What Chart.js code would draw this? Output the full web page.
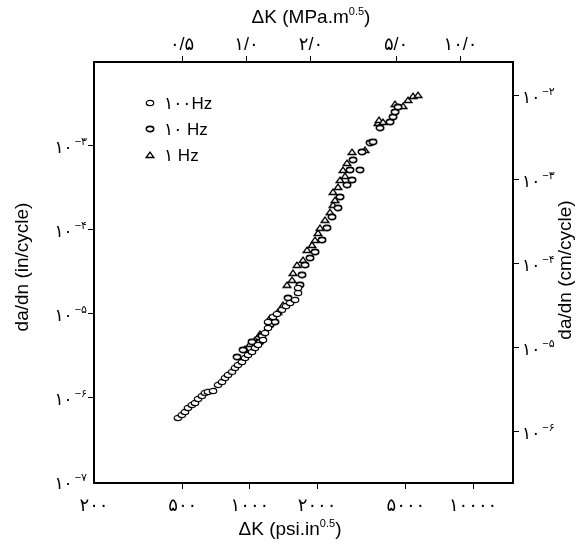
<!DOCTYPE html>
<html>
<head>
<meta charset="utf-8">
<script src="https://cdn.jsdelivr.net/npm/chart.js@4/dist/chart.umd.min.js"></script>
<style>
  html, body { margin: 0; padding: 0; background: #fff; }
  #wrap { width: 585px; height: 545px; }
</style>
</head>
<body>
<div id="wrap"><canvas id="chart" width="585" height="545"></canvas></div>
<script>
// ΔK (psi.in^0.5) and da/dn (in/cycle)
const dk100 = [475, 495, 511, 527, 549, 567, 585, 609, 628, 648, 683, 719, 749, 773, 797, 831, 857, 883,
  921, 950, 980, 1021, 1053, 1086, 1144, 1168, 1204, 1204, 1267, 1321, 1391, 1450, 1512, 1592, 1642, 1642];
const rate100 = [5.78e-7, 6.27e-7, 6.80e-7, 7.60e-7, 8.25e-7, 8.71e-7, 9.73e-7, 1.056e-6, 1.15e-6, 1.18e-6,
  1.21e-6, 1.43e-6, 1.55e-6, 1.73e-6, 1.88e-6, 2.05e-6, 2.28e-6, 2.47e-6, 2.68e-6, 2.99e-6, 3.25e-6, 3.53e-6,
  3.94e-6, 4.28e-6, 4.90e-6, 5.94e-6, 6.81e-6, 8.03e-6, 9.21e-6, 1.00e-5, 1.12e-5, 1.24e-5, 1.35e-5, 1.47e-5,
  1.78e-5, 2.04e-5];

const dk10 = [875, 931, 1021, 1109, 1132, 1229, 1294, 1481, 1676, 1711, 1765, 1858, 1957, 2103, 2214, 2332,
  2481, 2533, 2723, 2867, 2808, 3113, 2896, 3178, 3452, 3560, 3828, 4244, 4377, 4469, 4610];
const rate10 = [3.07e-6, 3.73e-6, 4.65e-6, 4.65e-6, 5.47e-6, 7.39e-6, 8.03e-6, 1.55e-5, 2.22e-5, 2.92e-5,
  3.83e-5, 4.64e-5, 5.47e-5, 7.60e-5, 1.06e-4, 1.43e-4, 1.83e-4, 2.47e-4, 3.44e-4, 3.94e-4, 5.18e-4, 5.18e-4,
  6.82e-4, 8.49e-4, 1.09e-3, 1.12e-3, 1.64e-3, 1.93e-3, 2.22e-3, 2.54e-3, 2.91e-3];

const dk1 = [950, 1000, 1053, 1109, 1229, 1335, 1406, 1465, 1544, 1559, 1625, 1729, 1802, 1897, 1957, 2018,
  2060, 2169, 2284, 2357, 2406, 2357, 2481, 2533, 2667, 2612, 2723, 2867, 3279, 3750, 3789, 3948, 4469,
  4854, 5111, 5382, 5667];
const rate1 = [3.83e-6, 4.40e-6, 4.90e-6, 5.78e-6, 8.96e-6, 1.06e-5, 1.28e-5, 2.22e-5, 2.54e-5, 3.08e-5,
  3.83e-5, 4.39e-5, 5.78e-5, 6.63e-5, 7.60e-5, 9.21e-5, 1.06e-4, 1.32e-4, 1.63e-4, 1.99e-4, 2.27e-4, 2.84e-4,
  3.25e-4, 3.94e-4, 4.39e-4, 5.18e-4, 6.28e-4, 8.49e-4, 8.97e-4, 1.88e-3, 2.04e-3, 1.93e-3, 3.16e-3,
  2.99e-3, 3.53e-3, 3.93e-3, 4.04e-3];

const seriesLabels = ['۱۰۰Hz', '۱۰ Hz', '۱ Hz'];

// axis ticks
const psiTicks = [200, 500, 1000, 2000, 5000, 10000];
const psiTickLabels = ['۲۰۰', '۵۰۰', '۱۰۰۰', '۲۰۰۰', '۵۰۰۰', '۱۰۰۰۰'];
const mpaTicks = [0.5, 1, 2, 5, 10];
const mpaTickLabels = ['۰/۵', '۱/۰', '۲/۰', '۵/۰', '۱۰/۰'];
const inTicks = [1e-3, 1e-4, 1e-5, 1e-6, 1e-7];
const inTickExps = ['۳', '۴', '۵', '۶', '۷'];
const cmTicks = [1e-2, 1e-3, 1e-4, 1e-5, 1e-6];
const cmTickExps = ['۲', '۳', '۴', '۵', '۶'];

const FONT = '"Liberation Sans", "DejaVu Sans", Arial, sans-serif';

function toPoints(xs, ys) {
  return xs.map((x, i) => ({ x, y: ys[i] }));
}

// small marker images
function makeMarker(kind) {
  const c = document.createElement('canvas');
  c.width = 10;
  c.height = 8;
  const g = c.getContext('2d');
  g.fillStyle = '#fff';
  g.strokeStyle = '#000';
  g.beginPath();
  if (kind === 'tri') {
    g.lineWidth = 1.3;
    g.moveTo(5, 1.2);
    g.lineTo(8.8, 6.5);
    g.lineTo(1.2, 6.5);
    g.closePath();
  } else {
    g.lineWidth = kind === 'bold' ? 1.6 : 1.2;
    g.ellipse(5, 4, 3.7, 2.6, 0, 0, Math.PI * 2);
  }
  g.fill();
  g.stroke();
  return c;
}
const markers = [makeMarker('thin'), makeMarker('bold'), makeMarker('tri')];

function hideAt(v) {
  return ctx => (ctx.tick && ctx.tick.value === v ? 'rgba(0,0,0,0)' : '#000');
}

// text with a superscript part, centred on cx
function supText(ctx, parts, cx, cy, size) {
  const supSize = Math.round(size * 0.6);
  const widths = parts.map(p => {
    ctx.font = (p.sup ? supSize : size) + 'px ' + FONT;
    return ctx.measureText(p.t).width;
  });
  let x = cx - widths.reduce((a, b) => a + b, 0) / 2;
  parts.forEach((p, i) => {
    ctx.font = (p.sup ? supSize : size) + 'px ' + FONT;
    ctx.fillText(p.t, x, p.sup ? cy - size * 0.32 : cy);
    x += widths[i];
  });
}

function powerLabel(ctx, exp, x, y, alignRight) {
  ctx.font = '17px ' + FONT;
  const base = '۱۰';
  const wb = ctx.measureText(base).width;
  ctx.font = '11px ' + FONT;
  const sup = '−' + exp;
  const ws = ctx.measureText(sup).width;
  const left = alignRight ? x - wb - ws - 2 : x;
  ctx.font = '17px ' + FONT;
  ctx.fillText(base, left, y + 2);
  ctx.font = '11px ' + FONT;
  ctx.fillText(sup, left + wb + 2, y - 4);
}

const textPlugin = {
  id: 'textPlugin',
  afterDraw(chart) {
    const ctx = chart.ctx;
    const area = chart.chartArea;
    const sy = chart.scales.y;
    const sy2 = chart.scales.y2;
    ctx.save();
    ctx.fillStyle = '#000';
    ctx.textBaseline = 'middle';
    ctx.textAlign = 'left';

    inTicks.forEach((v, i) => powerLabel(ctx, inTickExps[i], area.left - 7, sy.getPixelForValue(v), true));
    cmTicks.forEach((v, i) => powerLabel(ctx, cmTickExps[i], area.right + 9, sy2.getPixelForValue(v), false));

    // axis titles
    supText(ctx, [{ t: 'ΔK (MPa.m' }, { t: '0.5', sup: true }, { t: ')' }], 311, 18, 19);
    supText(ctx, [{ t: 'ΔK (psi.in' }, { t: '0.5', sup: true }, { t: ')' }], 290, 530, 19);

    ctx.font = '19px ' + FONT;
    ctx.textAlign = 'center';
    ctx.save();
    ctx.translate(23, 267);
    ctx.rotate(-Math.PI / 2);
    ctx.fillText('da/dn (in/cycle)', 0, 0);
    ctx.restore();
    ctx.save();
    ctx.translate(566, 270);
    ctx.rotate(-Math.PI / 2);
    ctx.fillText('da/dn (cm/cycle)', 0, 0);
    ctx.restore();

    // legend
    ctx.textAlign = 'left';
    ctx.font = '17px ' + FONT;
    seriesLabels.forEach((lab, i) => {
      const y = area.top + 41 + i * 26;
      const m = markers[i];
      ctx.drawImage(m, area.left + 56 - m.width / 2, y - m.height / 2);
      ctx.fillText(lab, area.left + 70, y + 1);
    });
    ctx.restore();
  }
};

new Chart(document.getElementById('chart'), {
  type: 'scatter',
  data: {
    datasets: [
      { label: seriesLabels[0], data: toPoints(dk100, rate100), pointStyle: markers[0] },
      { label: seriesLabels[1], data: toPoints(dk10, rate10), pointStyle: markers[1] },
      { label: seriesLabels[2], data: toPoints(dk1, rate1), pointStyle: markers[2] },
    ],
  },
  options: {
    responsive: false,
    animation: false,
    events: [],
    layout: { padding: 0 },
    plugins: { legend: { display: false }, tooltip: { enabled: false } },
    scales: {
      x: {
        type: 'logarithmic',
        position: 'bottom',
        min: 200,
        max: 15100,
        afterBuildTicks: s => { s.ticks = psiTicks.map(v => ({ value: v })); },
        afterFit: s => { s.height = 62; },
        ticks: {
          autoSkip: false,
          maxRotation: 0,
          padding: 6,
          color: '#000',
          font: { family: FONT, size: 18 },
          callback: v => psiTickLabels[psiTicks.indexOf(v)],
        },
        grid: { drawOnChartArea: false, tickLength: 6, color: hideAt(200) },
        border: { display: true, color: '#000', width: 2 },
      },
      x2: {
        type: 'logarithmic',
        position: 'top',
        min: 0.1938,
        max: 17.6,
        afterBuildTicks: s => { s.ticks = mpaTicks.map(v => ({ value: v })); },
        afterFit: s => { s.height = 62; },
        ticks: {
          autoSkip: false,
          maxRotation: 0,
          padding: 0,
          color: '#000',
          font: { family: FONT, size: 18 },
          callback: v => mpaTickLabels[mpaTicks.indexOf(v)],
        },
        grid: { drawOnChartArea: false, tickLength: 6, color: '#000' },
        border: { display: true, color: '#000', width: 2 },
      },
      y: {
        type: 'logarithmic',
        position: 'left',
        min: 9.7e-8,
        max: 1e-2,
        afterBuildTicks: s => { s.ticks = inTicks.map(v => ({ value: v })); },
        afterFit: s => { s.width = 94; },
        ticks: { display: false },
        grid: { drawOnChartArea: false, tickLength: 6, color: hideAt(1e-7) },
        border: { display: true, color: '#000', width: 2 },
      },
      y2: {
        type: 'logarithmic',
        position: 'right',
        min: 9.7e-8 * 2.54,
        max: 1e-2 * 2.54,
        afterBuildTicks: s => { s.ticks = cmTicks.map(v => ({ value: v })); },
        afterFit: s => { s.width = 72; },
        ticks: { display: false },
        grid: { drawOnChartArea: false, tickLength: 6, color: '#000' },
        border: { display: true, color: '#000', width: 2 },
      },
    },
  },
  plugins: [textPlugin],
});
</script>
</body>
</html>
